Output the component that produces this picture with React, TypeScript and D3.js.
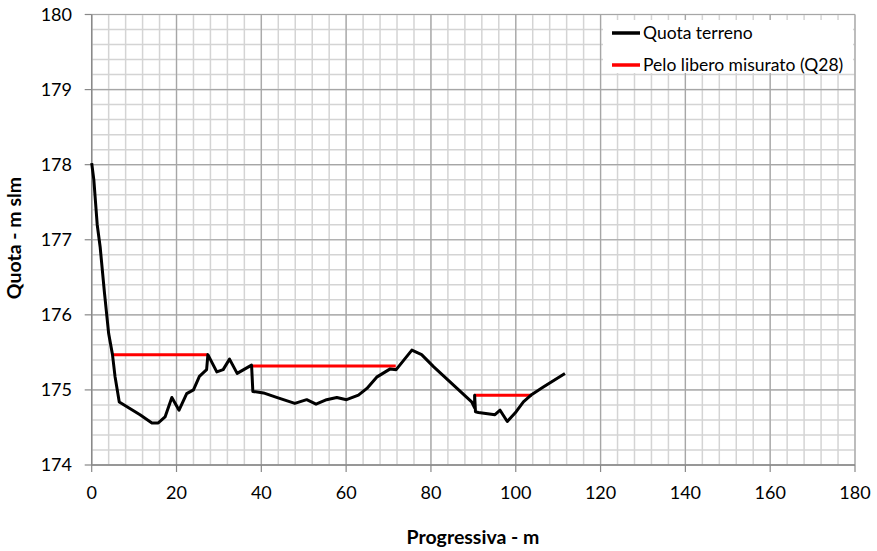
import React from "react";
import * as d3 from "d3";

const terrenoX = [0, 0.5, 1.3, 2, 3, 4, 4.9, 5.5, 6.5, 11.4, 14.2, 15.7, 17.3, 18.9, 20.6, 22.4, 24.0, 25.4, 27.1, 27.4, 29.5, 31.0, 32.5, 34.3, 37.7, 38.0, 40.5, 43.6, 47.9, 50.7, 52.9, 55.4, 57.8, 60.1, 62.9, 64.9, 67.2, 70.4, 71.8, 75.5, 77.8, 80.6, 89.6, 90.3, 90.3, 90.5, 91.2, 95.1, 96.3, 98.0, 100.1, 101.8, 103.8, 106.5, 111.6];
const terrenoY = [178.02, 177.8, 177.2, 176.9, 176.3, 175.75, 175.47, 175.18, 174.84, 174.67, 174.56, 174.56, 174.64, 174.9, 174.73, 174.95, 175.0, 175.18, 175.27, 175.47, 175.24, 175.27, 175.41, 175.22, 175.33, 174.98, 174.96, 174.9, 174.82, 174.87, 174.81, 174.87, 174.9, 174.87, 174.93, 175.02, 175.17, 175.28, 175.27, 175.53, 175.47, 175.31, 174.84, 174.76, 174.93, 174.71, 174.7, 174.67, 174.73, 174.58, 174.71, 174.84, 174.94, 175.04, 175.22];

const peloSegments = [
  { x0: 4.9, x1: 27.4, y: 175.47 },
  { x0: 38.0, x1: 71.7, y: 175.32 },
  { x0: 90.2, x1: 103.8, y: 174.93 },
];

const xTicks = [0, 20, 40, 60, 80, 100, 120, 140, 160, 180];
const yTicks = [174, 175, 176, 177, 178, 179, 180];
const legendLabels = ["Quota terreno", "Pelo libero misurato (Q28)"];

export default function App() {
  const W = 877, H = 551;
  const x = d3.scaleLinear().domain([0, 180]).range([91.7, 855]);
  const y = d3.scaleLinear().domain([174, 180]).range([465, 14.5]);
  const minorX = d3.range(0, 181, 4);
  const minorY = d3.range(174, 180.001, 0.2);
  const pts: [number, number][] = terrenoX.map((v, i) => [v, terrenoY[i]]);
  const line = d3.line<[number, number]>().x(d => x(d[0])).y(d => y(d[1]));
  const font = "Lato, 'Open Sans', sans-serif";
  return (
    <svg width={W} height={H} style={{ position: "absolute", left: 0, top: 0, background: "#fff" }}>
      <rect x={0} y={0} width={W} height={H} fill="#fff" />
      {minorX.map(v => (
        <line key={"mx" + v} x1={x(v)} x2={x(v)} y1={y(174)} y2={y(180)} stroke="#d4d4d4" strokeWidth={1.5} />
      ))}
      {minorY.map((v, i) => (
        <line key={"my" + i} x1={x(0)} x2={x(180)} y1={y(v)} y2={y(v)} stroke="#d4d4d4" strokeWidth={1.5} />
      ))}
      {xTicks.map(v => (
        <line key={"Mx" + v} x1={x(v)} x2={x(v)} y1={y(174)} y2={y(180)} stroke="#a6a6a6" strokeWidth={1.2} />
      ))}
      {yTicks.map(v => (
        <line key={"My" + v} x1={x(0)} x2={x(180)} y1={y(v)} y2={y(v)} stroke="#a6a6a6" strokeWidth={1.2} />
      ))}
      <line x1={x(0)} x2={x(0)} y1={y(174)} y2={y(180)} stroke="#888" strokeWidth={1.3} />
      <line x1={x(0)} x2={x(180)} y1={y(174)} y2={y(174)} stroke="#888" strokeWidth={1.3} />
      {yTicks.map(v => (
        <g key={"yt" + v}>
          <line x1={x(0) - 7} x2={x(0)} y1={y(v)} y2={y(v)} stroke="#888" strokeWidth={1.2} />
          <text x={72} y={y(v)} dy="0.35em" textAnchor="end" fontFamily={font} fontSize={18} fill="#000">{v}</text>
        </g>
      ))}
      {xTicks.map(v => (
        <g key={"xt" + v}>
          <line x1={x(v)} x2={x(v)} y1={y(174)} y2={y(174) + 7} stroke="#888" strokeWidth={1.2} />
          <text x={x(v)} y={499} textAnchor="middle" fontFamily={font} fontSize={18} fill="#000">{v}</text>
        </g>
      ))}
      {peloSegments.map((s, i) => (
        <line key={"p" + i} x1={x(s.x0)} x2={x(s.x1)} y1={y(s.y)} y2={y(s.y)} stroke="#ff0000" strokeWidth={3} />
      ))}
      <path d={line(pts) || ""} fill="none" stroke="#000" strokeWidth={3} strokeLinejoin="round" />
      <rect x={603} y={20} width={250} height={53} fill="#fff" />
      <line x1={612} x2={640} y1={33} y2={33} stroke="#000" strokeWidth={3.5} />
      <text x={643} y={33} dy="0.35em" fontFamily={font} fontSize={17.5} fill="#000">{legendLabels[0]}</text>
      <line x1={612} x2={640} y1={65} y2={65} stroke="#ff0000" strokeWidth={3.5} />
      <text x={643} y={65} dy="0.35em" fontFamily={font} fontSize={17.5} fill="#000">{legendLabels[1]}</text>
      <text x={473} y={544} textAnchor="middle" fontFamily={font} fontWeight="bold" fontSize={19.5} fill="#000">Progressiva - m</text>
      <text transform={`translate(21,238) rotate(-90)`} textAnchor="middle" fontFamily={font} fontWeight="bold" fontSize={19.5} fill="#000">Quota - m slm</text>
    </svg>
  );
}
